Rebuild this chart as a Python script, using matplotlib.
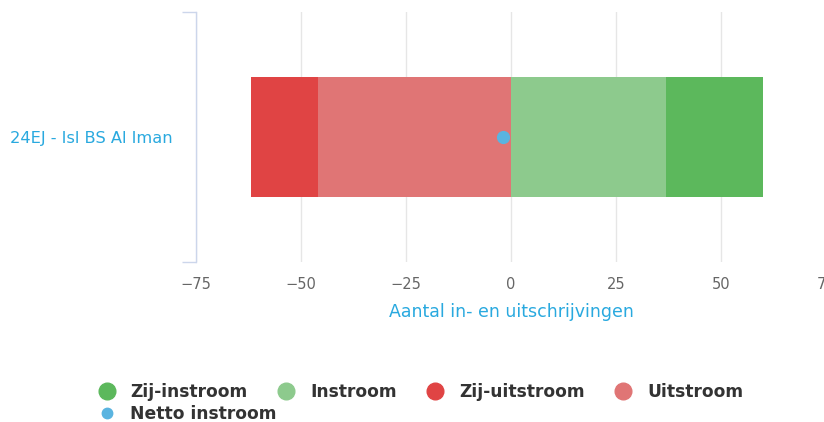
import matplotlib
matplotlib.use("Agg")
import matplotlib.pyplot as plt
from matplotlib.lines import Line2D

# data
school = "24EJ - Isl BS Al Iman"
instroom = [37]
zij_instroom = [23]
uitstroom = [-46]
zij_uitstroom = [-16]
netto = [-2]
x_ticks = [-75, -50, -25, 0, 25, 50, 75]

c_zij_in = "#5cb85c"
c_in = "#8dca8d"
c_zij_uit = "#e04444"
c_uit = "#e07575"
c_netto = "#5ab4e0"
c_text = "#29a9df"
c_axis = "#ccd6eb"

fig = plt.figure(figsize=(8.24, 4.22), dpi=100)
ax = fig.add_axes([196 / 824, 1 - 262 / 422, 630 / 824, 250 / 422])

y = [0]
h = 0.48
ax.barh(y, uitstroom, height=h, color=c_uit, zorder=2)
ax.barh(y, zij_uitstroom, left=uitstroom, height=h, color=c_zij_uit, zorder=2)
ax.barh(y, instroom, height=h, color=c_in, zorder=2)
ax.barh(y, zij_instroom, left=instroom, height=h, color=c_zij_in, zorder=2)
ax.plot(netto, y, "o", color=c_netto, markersize=8.5, zorder=3)

ax.set_xlim(-75, 75)
ax.set_ylim(-0.5, 0.5)
ax.set_xticks(x_ticks)
ax.set_xticklabels([str(t).replace("-", "\u2212") for t in x_ticks])
ax.tick_params(axis="x", length=0, pad=11, labelsize=10.5, labelcolor="#666666")
ax.grid(axis="x", color="#e6e6e6", linewidth=1, zorder=0)

ax.set_yticks([0])
ax.set_yticklabels([school])
ax.set_yticks([-0.5, 0.5], minor=True)
ax.tick_params(axis="y", which="major", length=0, pad=17, labelsize=11.7, labelcolor=c_text)
ax.tick_params(axis="y", which="minor", length=10, width=1, color=c_axis)

for s in ["top", "right", "bottom"]:
    ax.spines[s].set_visible(False)
ax.spines["left"].set_color(c_axis)
ax.spines["left"].set_linewidth(1)

ax.set_xlabel("Aantal in- en uitschrijvingen", color=c_text, fontsize=12.5, labelpad=7.5)

# legend: four series in one row, net inflow on the row below
def dot(color, size):
    return Line2D([], [], marker="o", linestyle="", color=color, markersize=size)

leg_style = dict(frameon=False, prop={"weight": "bold", "size": 12.3}, labelcolor="#333333",
                 handletextpad=0.9, handlelength=1.0, borderpad=0, borderaxespad=0)
fig.legend([dot(c_zij_in, 12), dot(c_in, 12), dot(c_zij_uit, 12), dot(c_uit, 12)],
           ["Zij-instroom", "Instroom", "Zij-uitstroom", "Uitstroom"],
           ncol=4, loc="center left", bbox_to_anchor=(98 / 824, 1 - 392 / 422),
           columnspacing=1.75, **leg_style)
fig.legend([dot(c_netto, 7.5)], ["Netto instroom"], loc="center left",
           bbox_to_anchor=(98 / 824, 1 - 414 / 422), **leg_style)

fig.savefig("out.png", dpi=100)
